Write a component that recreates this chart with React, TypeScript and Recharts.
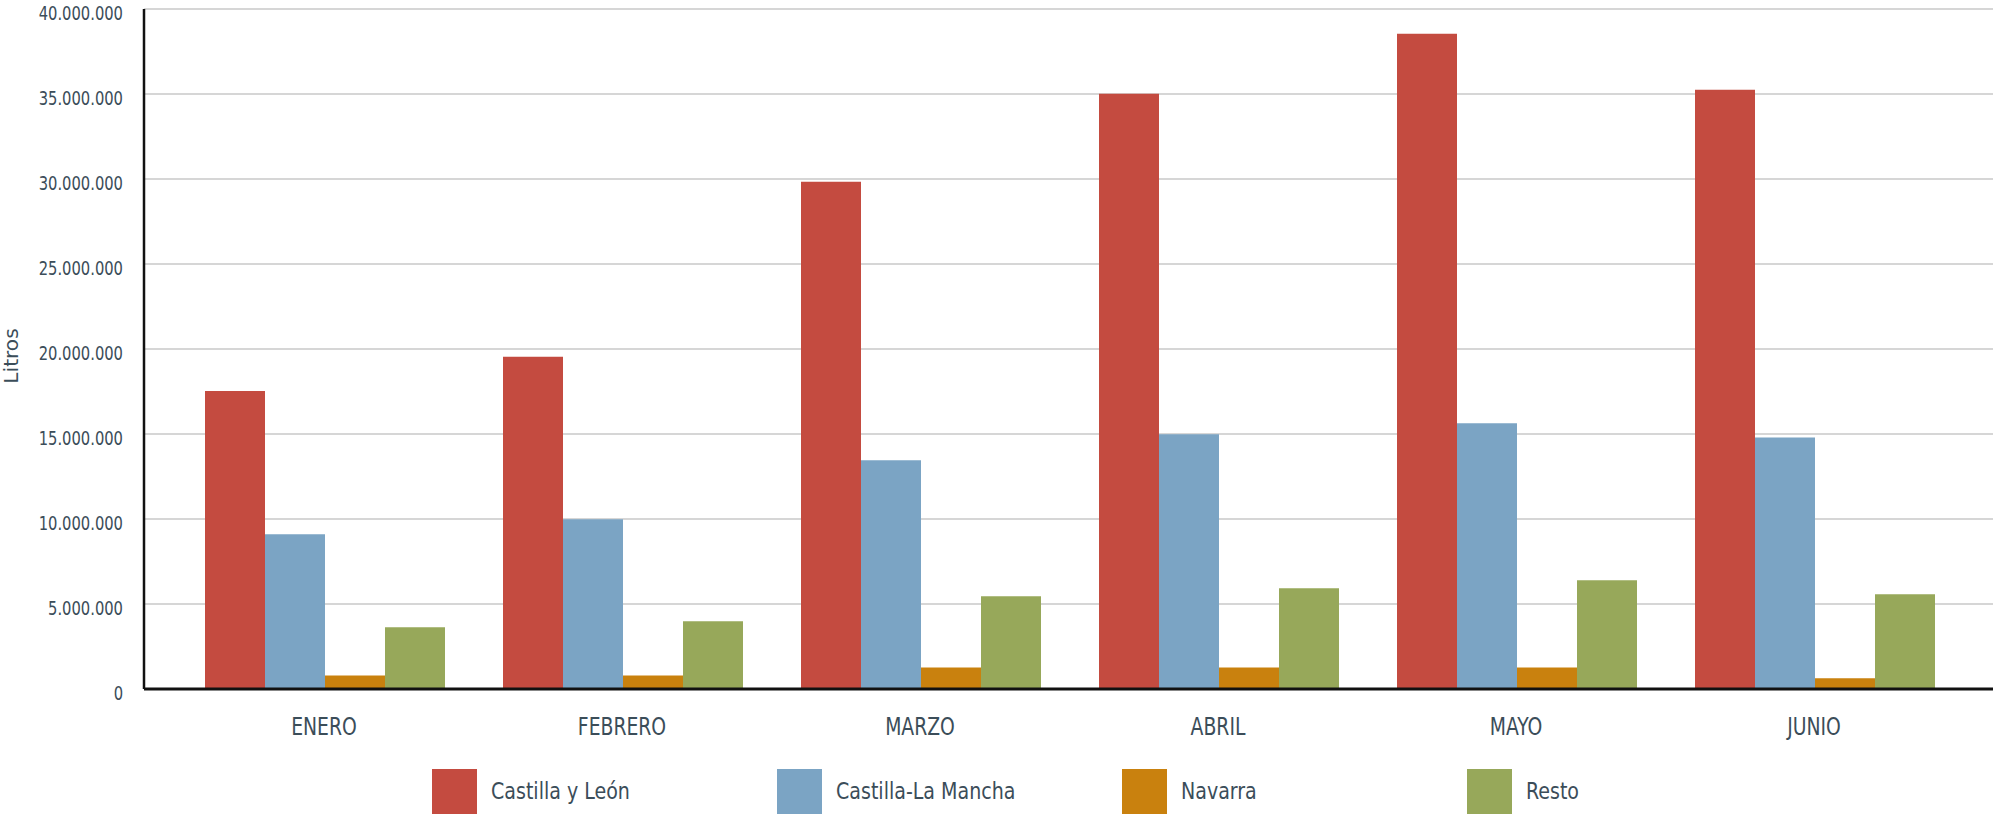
import React from 'react';
import { BarChart, Bar, XAxis, YAxis, CartesianGrid, Legend } from 'recharts';

const months = ['ENERO', 'FEBRERO', 'MARZO', 'ABRIL', 'MAYO', 'JUNIO'];
const castillaLeon = [17530000, 19550000, 29840000, 35020000, 38550000, 35250000];
const castillaLaMancha = [9100000, 9980000, 13450000, 14980000, 15630000, 14800000];
const navarra = [800000, 800000, 1270000, 1270000, 1270000, 630000];
const resto = [3630000, 3980000, 5450000, 5920000, 6390000, 5570000];
const yTicks = [0, 5000000, 10000000, 15000000, 20000000, 25000000, 30000000, 35000000, 40000000];

const seriesNames = ['Castilla y León', 'Castilla-La Mancha', 'Navarra', 'Resto'];
const seriesKeys = ['cl', 'clm', 'nav', 'resto'];
const seriesColors = ['#c44b40', '#7ba4c4', '#c9810e', '#97a85a'];

const data = months.map((m, i) => ({
  month: m,
  cl: castillaLeon[i],
  clm: castillaLaMancha[i],
  nav: navarra[i],
  resto: resto[i],
}));

const FONT = "'Liberation Sans Narrow', 'DejaVu Sans Condensed', Roboto, sans-serif";
const TEXT = '#3b4d59';

const fmt = (v: number) => String(v).replace(/\B(?=(\d{3})+(?!\d))/g, '.');

const YTick = (props: any) => {
  const { x, y, payload } = props;
  return (
    <g transform={`translate(${x - 21},${y + 11}) scale(0.82,1)`}>
      <text x={0} y={0} textAnchor="end" fontSize={20} fill={TEXT} fontFamily={FONT}>
        {fmt(payload.value)}
      </text>
    </g>
  );
};

const XTick = (props: any) => {
  const { x, y, payload } = props;
  return (
    <g transform={`translate(${x},${y + 46}) scale(0.87,1)`}>
      <text x={0} y={0} textAnchor="middle" fontSize={24} fill={TEXT} fontFamily={FONT}>
        {payload.value}
      </text>
    </g>
  );
};

const YLabel = (props: any) => {
  const vb = props.viewBox || { y: 9, height: 680 };
  const cy = vb.y + vb.height / 2 + 7;
  return (
    <g transform={`translate(18,${cy}) rotate(-90) scale(1.12,1)`}>
      <text x={0} y={0} textAnchor="middle" fontSize={20} fill={TEXT} fontFamily={FONT}>
        Litros
      </text>
    </g>
  );
};

const LegendContent = () => (
  <div style={{ display: 'flex', paddingLeft: 432, height: 48, fontFamily: FONT }}>
    {seriesNames.map((n, i) => (
      <div key={n} style={{ width: 345, display: 'flex', alignItems: 'center' }}>
        <div style={{ width: 45, height: 45, background: seriesColors[i], marginRight: 14, flex: 'none' }} />
        <span
          style={{
            fontSize: 23,
            color: TEXT,
            display: 'inline-block',
            transform: 'scaleX(0.92)',
            transformOrigin: 'left center',
            whiteSpace: 'nowrap',
          }}
        >
          {n}
        </span>
      </div>
    ))}
  </div>
);

export default function App() {
  return (
    <div style={{ position: 'absolute', left: 0, top: 0, width: 1993, height: 816, background: '#fff' }}>
      <BarChart
        width={1993}
        height={816}
        data={data}
        margin={{ top: 9, right: 0, left: 0, bottom: 0 }}
        barCategoryGap={30}
        barGap={0}
      >
        <CartesianGrid vertical={false} stroke="#c8c8c8" strokeWidth={1.5} />
        <XAxis
          dataKey="month"
          height={79}
          padding={{ left: 31, right: 30 }}
          tickLine={false}
          tickSize={0}
          tickMargin={0}
          axisLine={{ stroke: '#111', strokeWidth: 3 }}
          tick={<XTick />}
          interval={0}
        />
        <YAxis
          width={144}
          domain={[0, 40000000]}
          ticks={yTicks}
          tickLine={false}
          tickSize={0}
          tickMargin={0}
          axisLine={{ stroke: '#111', strokeWidth: 2.5 }}
          tick={<YTick />}
          label={<YLabel />}
          interval={0}
        />
        <Legend
          verticalAlign="bottom"
          content={<LegendContent />}
          wrapperStyle={{ position: 'absolute', left: 0, top: 767, bottom: 'auto', width: 1993, height: 48 }}
        />
        {seriesKeys.map((k, i) => (
          <Bar key={k} dataKey={k} name={seriesNames[i]} fill={seriesColors[i]} isAnimationActive={false} />
        ))}
      </BarChart>
    </div>
  );
}
